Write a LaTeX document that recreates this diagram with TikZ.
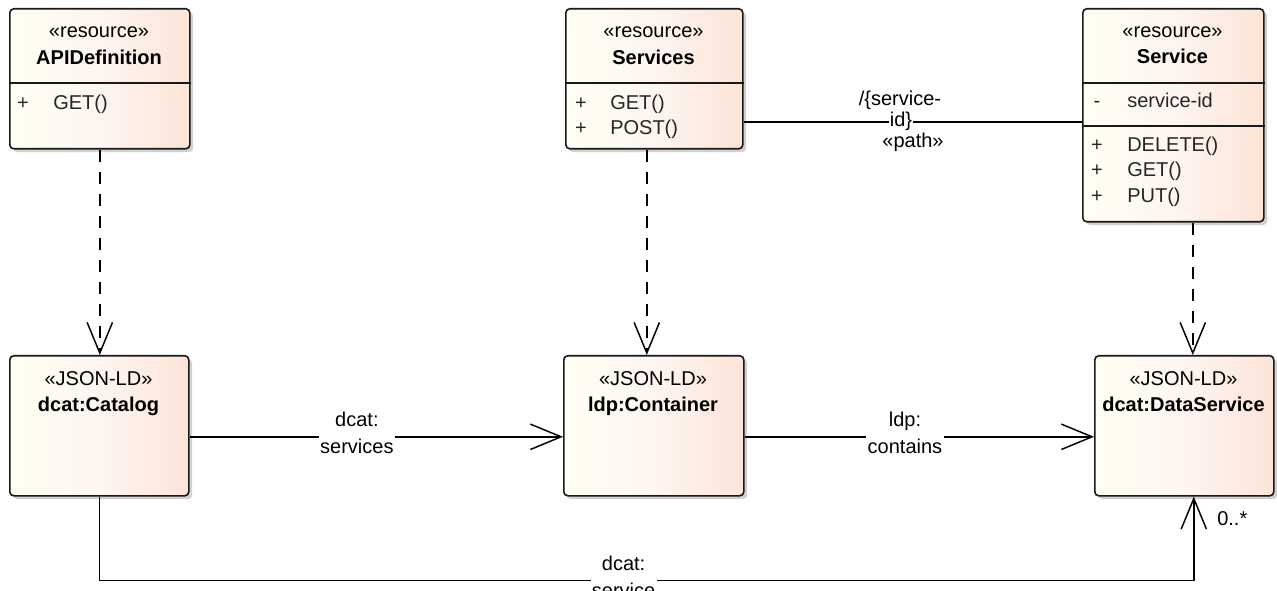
\documentclass[tikz,border=0pt]{standalone}
\usepackage{fontspec}
\setmainfont{Liberation Sans}
\usepackage{tikz}
\usetikzlibrary{positioning,arrows.meta,shadows,calc}

\definecolor{boxleft}{HTML}{FFFFF3}
\definecolor{boxmid}{HTML}{FEF5F1}
\definecolor{boxright}{HTML}{FCE4D7}

\begin{document}
\begin{tikzpicture}[x=0.75pt,y=-0.75pt,
  cls/.style={draw=black!90,line width=1.2pt,rounded corners=3pt,anchor=north west,inner sep=0pt,
    left color=boxleft,right color=boxright,middle color=boxmid,
    drop shadow={shadow xshift=2.5pt,shadow yshift=-2.5pt,fill=black!30,opacity=0.6}},
  ster/.style={font=\fontsize{15pt}{18pt}\selectfont,inner sep=0pt,anchor=base},
  cname/.style={font=\fontsize{15pt}{18pt}\selectfont\bfseries,inner sep=0pt,anchor=base},
  vis/.style={font=\fontsize{15pt}{18pt}\selectfont,inner sep=0pt,anchor=base,text=black!85},
  memb/.style={font=\fontsize{15pt}{18pt}\selectfont,inner sep=0pt,anchor=base west,text=black!85},
  sep/.style={line width=1.2pt,black!90},
  dep/.style={line width=1.1pt,dash pattern=on 9.5pt off 7pt,-{Straight Barb[length=23pt,width=19pt,line width=1.1pt]}},
  assoc/.style={line width=1.1pt},
  nav/.style={line width=1.1pt,-{Straight Barb[length=23pt,width=19pt,line width=1.1pt]}},
  lab/.style={font=\fontsize{15pt}{20pt}\selectfont,align=center,fill=white,inner sep=1pt}]
\useasboundingbox (0,0) rectangle (1277,591);

% resource classes
\node[cls,minimum width=135pt,minimum height=105pt] (api) at (9,8) {};
\node[ster] (apiSt) at (99,38) {«resource»};
\node[cname] (apiNm) at (99,65) {APIDefinition};
\draw[sep] ($(api.north west)+(0,75)$) -- ($(api.north east)+(0,75)$);
\node[vis] (apiV1) at (23,110) {+};
\node[memb] (apiM1) at (53,110) {GET()};

\node[cls,minimum width=132.75pt,minimum height=105pt] (svcs) at (565,8) {};
\node[ster] (svcsSt) at (653.5,38) {«resource»};
\node[cname] (svcsNm) at (653.5,65) {Services};
\draw[sep] ($(svcs.north west)+(0,75)$) -- ($(svcs.north east)+(0,75)$);
\node[vis] (svcsV1) at (581,110) {+};
\node[memb] (svcsM1) at (610,110) {GET()};
\node[vis] (svcsV2) at (581,135) {+};
\node[memb] (svcsM2) at (610,135) {POST()};

\node[cls,minimum width=135.75pt,minimum height=159.75pt] (svc) at (1082,8) {};
\node[ster] (svcSt) at (1172.5,38) {«resource»};
\node[cname] (svcNm) at (1172.5,64) {Service};
\draw[sep] ($(svc.north west)+(0,75)$) -- ($(svc.north east)+(0,75)$);
\node[vis] (svcV1) at (1097,108) {-};
\node[memb] (svcA1) at (1127,108) {service-id};
\draw[sep] ($(svc.north west)+(0,118)$) -- ($(svc.north east)+(0,118)$);
\node[vis] (svcV2) at (1097,152) {+};
\node[memb] (svcM1) at (1127,152) {DELETE()};
\node[vis] (svcV3) at (1097,177) {+};
\node[memb] (svcM2) at (1127,177) {GET()};
\node[vis] (svcV4) at (1097,203) {+};
\node[memb] (svcM3) at (1127,203) {PUT()};

% JSON-LD classes
\node[cls,minimum width=134.25pt,minimum height=105pt] (cat) at (9,355) {};
\node[ster] (catSt) at (98.5,385) {«JSON-LD»};
\node[cname] (catNm) at (98.5,411) {dcat:Catalog};

\node[cls,minimum width=135pt,minimum height=105pt] (cont) at (563,355) {};
\node[ster] (contSt) at (653,385) {«JSON-LD»};
\node[cname] (contNm) at (653,411) {ldp:Container};

\node[cls,minimum width=134.25pt,minimum height=105pt] (ds) at (1094,355) {};
\node[ster] (dsSt) at (1183.5,385) {«JSON-LD»};
\node[cname] (dsNm) at (1183.5,411) {dcat:DataService};

% dependencies
\draw[dep] (api.south) -- (api.south |- cat.north);
\draw[dep] ($(svcs.south)+(-7.5,0)$) -- ($(cont.north)+(-7,0)$);
\draw[dep] ($(svc.south)+(19.5,0)$) -- ($(ds.north)+(8.5,0)$);

% associations
\draw[assoc] ($(svcs.east)+(0,43)$) -- node[lab,pos=0.465,inner sep=0.5pt] (pathId) {id\}} ($(svc.west)+(0,6.5)$);
\node[ster] (pathNm) at (900,106) {/\{service-};
\node[ster] (pathSt) at (913,148) {«path»};

\draw[nav] ($(cat.east)+(0,11)$) -- node[lab,pos=0.448,yshift=3pt] (lblSvcs) {dcat:\\services} ($(cont.west)+(0,11)$);
\draw[nav] ($(cont.east)+(0,11)$) -- node[lab,pos=0.459,yshift=3pt] (lblCont) {ldp:\\contains} ($(ds.west)+(0,11)$);

\coordinate (catLow) at ($(cat.south)+(0,84)$);
\coordinate (dsLow) at ($(ds.south)+(9.5,84)$);
\draw[nav] (cat.south) -- (catLow) -- node[lab,pos=0.479,yshift=3pt] (lblSvc) {dcat:\\service} (dsLow) -- ($(ds.south)+(9.5,0)$);
\node[ster,anchor=base west] (mult) at (1217,525) {0..*};
\end{tikzpicture}
\end{document}
